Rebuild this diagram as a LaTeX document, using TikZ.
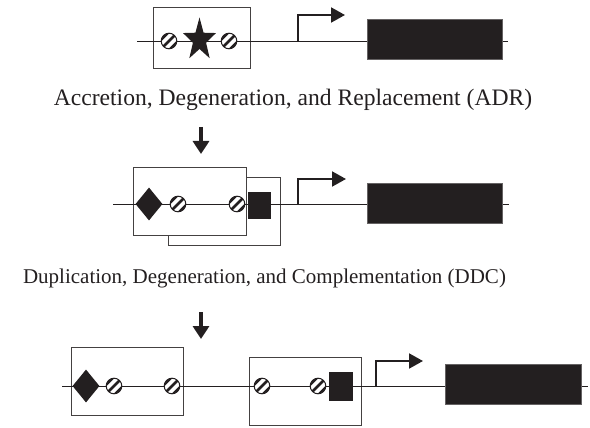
\documentclass[tikz,border=0pt]{standalone}
\usepackage{fontspec}
\setmainfont{Liberation Serif}
\usetikzlibrary{arrows.meta,shapes.geometric}
\definecolor{ink}{HTML}{231F20}
\begin{document}
\begin{tikzpicture}[x=1pt,y=-1pt,
  dna/.style={line width=0.9pt, ink},
  module/.style={draw=ink!85, line width=0.9pt, inner sep=0pt},
  gene/.style={draw=ink!70, fill=ink, line width=0.6pt, inner sep=0pt, minimum width=135pt, minimum height=40pt},
  prom/.style={line width=2pt, ink, -{Triangle[length=14pt,width=15pt]}},
  evo/.style={line width=3.5pt, ink, -{Triangle[length=13pt,width=16pt]}},
  dia/.style={diamond, fill=ink, inner sep=0pt, minimum width=27pt, minimum height=33pt},
  sq/.style={fill=ink, inner sep=0pt},
  lab/.style={text=ink, inner sep=0pt},
  hc/.pic={
    \fill[white] (0,0) circle (7.8);
    \begin{scope}
      \clip (0,0) circle (7.8);
      \foreach \d in {-4.6,0,4.6} {
        \draw[line width=2.6pt, ink] (-12+\d,12+\d) -- (12+\d,-12+\d);
      }
    \end{scope}
    \draw[line width=1pt, ink] (0,0) circle (7.8);
  }
]
\useasboundingbox (0,0) rectangle (590,428);

% ---------- row 1 ----------
\node[module, minimum width=97pt, minimum height=61pt] (m1) at (201.5,37.5) {};
\coordinate (l1s) at (137,41);
\coordinate (l1e) at (508,41);
\draw[dna] (l1s) -- (l1e);
\node[star, star points=5, star point ratio=2.5, fill=ink, inner sep=0pt, minimum size=45pt, xscale=0.77] (st1) at (199.5,40) {};
\pic at (169,41) {hc};
\pic at (229,41) {hc};
\coordinate (p1) at (298,41);
\coordinate (p1t) at (345,15);
\draw[prom] (p1) |- (p1t);
\node[gene] (g1) at (434.5,39) {};

\node[lab, font=\fontsize{23.6}{26}\selectfont] (t1) at (293,100) {Accretion, Degeneration, and Replacement (ADR)};
\coordinate (a1s) at (201,127);
\coordinate (a1e) at (201,154);
\draw[evo] (a1s) -- (a1e);

% ---------- row 2 ----------
\node[module, minimum width=112pt, minimum height=68pt] (m2b) at (224,211) {};
\node[module, fill=white, minimum width=113pt, minimum height=68pt] (m2a) at (189.5,201) {};
\coordinate (l2s) at (113,204);
\coordinate (l2e) at (509,204);
\draw[dna] (l2s) -- (l2e);
\node[dia] (d2) at (149,204) {};
\pic at (178,204) {hc};
\pic at (237,204) {hc};
\node[sq, minimum width=23pt, minimum height=27pt] (s2) at (259.5,205.5) {};
\coordinate (p2) at (298,204);
\coordinate (p2t) at (346,179);
\draw[prom] (p2) |- (p2t);
\node[gene] (g2) at (434.5,203) {};

\node[lab, font=\fontsize{21}{24}\selectfont] (t2) at (264.5,278) {Duplication, Degeneration, and Complementation (DDC)};
\coordinate (a2s) at (201,312);
\coordinate (a2e) at (201,339);
\draw[evo] (a2s) -- (a2e);

% ---------- row 3 ----------
\node[module, minimum width=112pt, minimum height=68pt] (m3a) at (127,381) {};
\node[module, minimum width=112pt, minimum height=68pt] (m3b) at (305,391) {};
\coordinate (l3s) at (62,386);
\coordinate (l3e) at (588,386);
\draw[dna] (l3s) -- (l3e);
\node[dia] (d3) at (86,386) {};
\pic at (114,386) {hc};
\pic at (172,386) {hc};
\pic at (262,386) {hc};
\pic at (318,386) {hc};
\node[sq, minimum width=24pt, minimum height=29pt] (s3) at (341,386.5) {};
\coordinate (p3) at (376,386);
\coordinate (p3t) at (423,361);
\draw[prom] (p3) |- (p3t);
\node[gene, minimum width=136pt] (g3) at (513,384) {};
\end{tikzpicture}
\end{document}
